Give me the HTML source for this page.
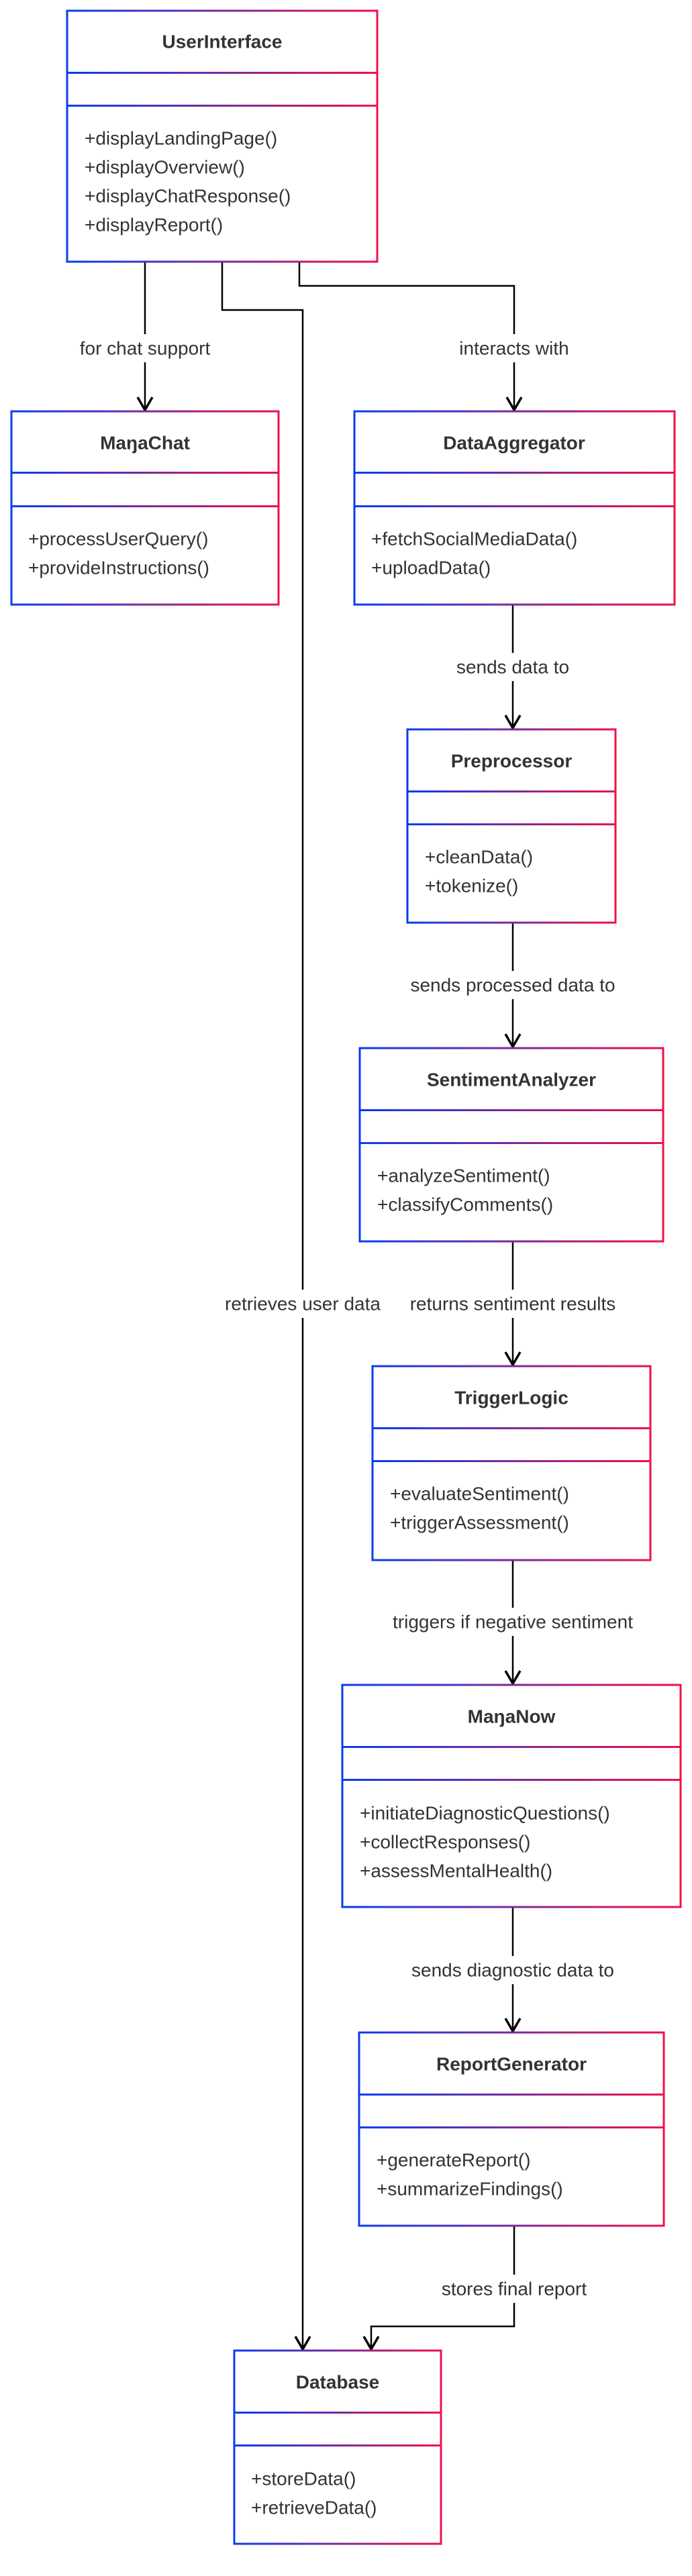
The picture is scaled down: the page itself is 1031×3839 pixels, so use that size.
<!DOCTYPE html>
<html><head><meta charset="utf-8"><style>
html,body{margin:0;padding:0;background:#fff;}
svg{display:block;}
text{font-family:"Liberation Sans",Arial,sans-serif;fill:#333;}
.t{font-weight:bold;font-size:28px;text-anchor:middle;dominant-baseline:central;}
.m{font-size:28px;dominant-baseline:central;}
.l{font-size:28px;text-anchor:middle;dominant-baseline:central;}
.ln{stroke:#000;stroke-width:2.5;fill:none;}
.ar{stroke:#000;stroke-width:3.5;fill:none;stroke-linejoin:miter;}
.bx{fill:#fff;stroke:url(#g);stroke-width:3;}
.dv{fill:url(#g);}
</style></head><body>
<svg width="1031" height="3839" viewBox="0 0 1031 3839" xmlns="http://www.w3.org/2000/svg">
<defs>
<linearGradient id="g" gradientUnits="objectBoundingBox" x1="0" y1="0" x2="1" y2="0">
<stop offset="0" stop-color="#0a3cf0"/><stop offset="0.5" stop-color="#7a2a9a"/><stop offset="1" stop-color="#f0104a"/>
</linearGradient>
</defs>

<!-- connectors -->
<polyline class="ln" points="216,390 216,611"/>
<polyline class="ln" points="331,390 331,462 451,462 451,3501"/>
<polyline class="ln" points="446,390 446,426 766,426 766,611"/>
<polyline class="ln" points="764,901 764,1085"/>
<polyline class="ln" points="764,1375 764,1560"/>
<polyline class="ln" points="764,1850 764,2034"/>
<polyline class="ln" points="764,2325 764,2509"/>
<polyline class="ln" points="764,2842 764,3027"/>
<polyline class="ln" points="766,3317 766,3467 553,3467 553,3501"/>

<!-- arrowheads -->
<polyline class="ar" points="205,592 216,611 227,592"/>
<polyline class="ar" points="755,592 766,611 777,592"/>
<polyline class="ar" points="753,1066 764,1085 775,1066"/>
<polyline class="ar" points="753,1541 764,1560 775,1541"/>
<polyline class="ar" points="753,2015 764,2034 775,2015"/>
<polyline class="ar" points="753,2490 764,2509 775,2490"/>
<polyline class="ar" points="753,3008 764,3027 775,3008"/>
<polyline class="ar" points="440,3482 451,3501 462,3482"/>
<polyline class="ar" points="542,3482 553,3501 564,3482"/>

<!-- labels -->
<rect x="106" y="498" width="220" height="42" fill="#fff"/><text class="l" x="216" y="519">for chat support</text>
<rect x="671" y="498" width="190" height="42" fill="#fff"/><text class="l" x="766" y="519">interacts with</text>
<rect x="674" y="973" width="180" height="42" fill="#fff"/><text class="l" x="764" y="994">sends data to</text>
<rect x="604" y="1447" width="320" height="42" fill="#fff"/><text class="l" x="764" y="1468">sends processed data to</text>
<rect x="604" y="1922" width="320" height="42" fill="#fff"/><text class="l" x="764" y="1943">returns sentiment results</text>
<rect x="326" y="1922" width="250" height="42" fill="#fff"/><text class="l" x="451" y="1943">retrieves user data</text>
<rect x="574" y="2396" width="380" height="42" fill="#fff"/><text class="l" x="764" y="2417">triggers if negative sentiment</text>
<rect x="604" y="2915" width="320" height="42" fill="#fff"/><text class="l" x="764" y="2936">sends diagnostic data to</text>
<rect x="641" y="3390" width="250" height="42" fill="#fff"/><text class="l" x="766" y="3411">stores final report</text>

<!-- UserInterface -->
<g>
<rect class="bx" x="100" y="16" width="462" height="374"/>
<rect class="dv" x="100" y="107" width="462" height="3"/>
<rect class="dv" x="100" y="156" width="462" height="3"/>
<text class="t" x="331" y="62">UserInterface</text>
<text class="m" x="126" y="206">+displayLandingPage()</text>
<text class="m" x="126" y="249">+displayOverview()</text>
<text class="m" x="126" y="292">+displayChatResponse()</text>
<text class="m" x="126" y="335">+displayReport()</text>
</g>

<!-- ManaChat -->
<g>
<rect class="bx" x="17" y="613" width="398" height="288"/>
<rect class="dv" x="17" y="703" width="398" height="3"/>
<rect class="dv" x="17" y="753" width="398" height="3"/>
<text class="t" x="216" y="660">MaŋaChat</text>
<text class="m" x="42" y="803">+processUserQuery()</text>
<text class="m" x="42" y="846">+provideInstructions()</text>
</g>

<!-- DataAggregator -->
<g>
<rect class="bx" x="528" y="613" width="477" height="288"/>
<rect class="dv" x="528" y="703" width="477" height="3"/>
<rect class="dv" x="528" y="753" width="477" height="3"/>
<text class="t" x="766" y="660">DataAggregator</text>
<text class="m" x="553" y="803">+fetchSocialMediaData()</text>
<text class="m" x="553" y="846">+uploadData()</text>
</g>

<!-- Preprocessor -->
<g>
<rect class="bx" x="607" y="1087" width="310" height="288"/>
<rect class="dv" x="607" y="1178" width="310" height="3"/>
<rect class="dv" x="607" y="1227" width="310" height="3"/>
<text class="t" x="762" y="1134">Preprocessor</text>
<text class="m" x="633" y="1277">+cleanData()</text>
<text class="m" x="633" y="1320">+tokenize()</text>
</g>

<!-- SentimentAnalyzer -->
<g>
<rect class="bx" x="536" y="1562" width="452" height="288"/>
<rect class="dv" x="536" y="1653" width="452" height="3"/>
<rect class="dv" x="536" y="1702" width="452" height="3"/>
<text class="t" x="762" y="1609">SentimentAnalyzer</text>
<text class="m" x="562" y="1752">+analyzeSentiment()</text>
<text class="m" x="562" y="1795">+classifyComments()</text>
</g>

<!-- TriggerLogic -->
<g>
<rect class="bx" x="555" y="2036" width="414" height="289"/>
<rect class="dv" x="555" y="2127" width="414" height="3"/>
<rect class="dv" x="555" y="2176" width="414" height="3"/>
<text class="t" x="762" y="2083">TriggerLogic</text>
<text class="m" x="581" y="2226">+evaluateSentiment()</text>
<text class="m" x="581" y="2269">+triggerAssessment()</text>
</g>

<!-- ManaNow -->
<g>
<rect class="bx" x="510" y="2511" width="504" height="331"/>
<rect class="dv" x="510" y="2602" width="504" height="3"/>
<rect class="dv" x="510" y="2651" width="504" height="3"/>
<text class="t" x="762" y="2558">MaŋaNow</text>
<text class="m" x="536" y="2702">+initiateDiagnosticQuestions()</text>
<text class="m" x="536" y="2745">+collectResponses()</text>
<text class="m" x="536" y="2788">+assessMentalHealth()</text>
</g>

<!-- ReportGenerator -->
<g>
<rect class="bx" x="535" y="3029" width="454" height="288"/>
<rect class="dv" x="535" y="3120" width="454" height="3"/>
<rect class="dv" x="535" y="3169" width="454" height="3"/>
<text class="t" x="762" y="3076">ReportGenerator</text>
<text class="m" x="561" y="3219">+generateReport()</text>
<text class="m" x="561" y="3262">+summarizeFindings()</text>
</g>

<!-- Database -->
<g>
<rect class="bx" x="349" y="3503" width="308" height="288"/>
<rect class="dv" x="349" y="3594" width="308" height="3"/>
<rect class="dv" x="349" y="3643" width="308" height="3"/>
<text class="t" x="503" y="3550">Database</text>
<text class="m" x="374" y="3694">+storeData()</text>
<text class="m" x="374" y="3737">+retrieveData()</text>
</g>
</svg>
</body></html>
